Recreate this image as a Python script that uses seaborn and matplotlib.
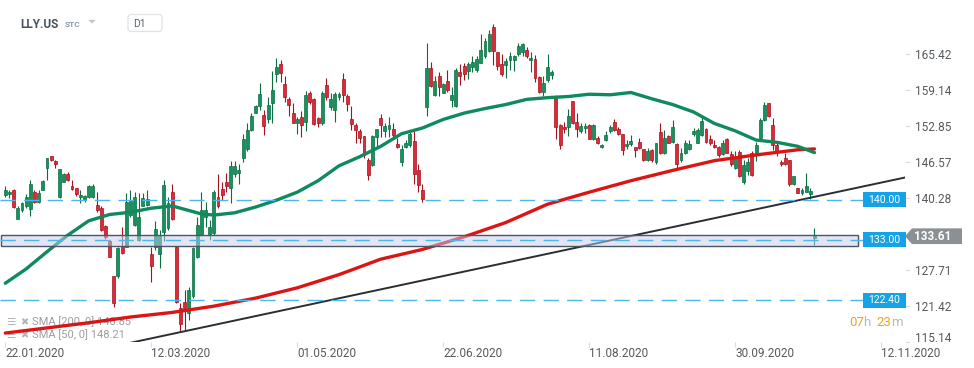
import numpy as np
import pandas as pd
import matplotlib.pyplot as plt
import matplotlib.patches as mpatches
import matplotlib.transforms as mtransforms
import seaborn as sns

# ----------------------------
# 1) Data (LLY.US, daily candles, bar index 0 = 22.01.2020)
# ----------------------------
opens = [140.8, 140.9, 141.6, 136.7, 138.1, 138.8, 138.3, 141.4, 139.6, 141.7,
         145.6, 147.6, 146.7, 140.4, 143.1, 144.5, 142.4, 142.0, 140.4, 139.9,
         140.5, 140.4, 139.1, 138.6, 135.4, 132.8, 126.6, 126.6, 131.9, 131.8,
         137.3, 135.6, 133.0, 138.9, 139.1, 130.5, 131.8, 130.5, 134.4, 135.0,
         141.4, 131.8, 121.0, 122.2, 120.2, 123.1, 130.0, 133.8, 137.0, 133.8,
         134.1, 140.4, 141.9, 143.0, 142.1, 144.5, 144.6, 147.2, 148.8, 152.2,
         155.2, 156.3, 154.8, 154.0, 156.8, 161.9, 163.7, 160.2, 157.6, 155.2,
         153.3, 154.4, 153.6, 158.6, 157.6, 154.2, 153.3, 160.0, 156.2, 155.6,
         158.0, 161.0, 158.1, 154.0, 153.1, 152.0, 151.1, 147.0, 146.0, 150.9,
         154.2, 151.9, 152.4, 152.3, 149.7, 146.5, 149.2, 149.5, 150.2, 145.1,
         141.7, 156.2, 162.9, 158.3, 161.6, 158.7, 160.7, 157.4, 156.3, 162.2,
         163.3, 162.5, 163.1, 162.7, 163.9, 165.0, 166.0, 170.1, 165.7, 163.7,
         163.5, 164.3, 164.3, 165.5, 165.7, 166.1, 164.3, 164.5, 161.4, 158.8,
         160.8, 161.8, 158.1, 153.1, 152.7, 152.6, 157.2, 153.6, 152.0, 152.5,
         153.1, 150.5, 150.7, 149.1, 150.4, 151.9, 153.5, 152.3, 151.5, 149.4,
         149.7, 149.1, 150.1, 148.8, 146.9, 148.7, 146.5, 151.8, 148.1, 151.1,
         150.1, 149.7, 146.9, 148.1, 148.8, 151.4, 149.9, 151.3, 152.3, 150.5,
         149.5, 149.1, 148.0, 150.5, 147.9, 145.5, 148.3, 143.0, 145.0, 148.1,
         148.1, 150.7, 153.9, 156.8, 153.1, 149.5, 146.6, 147.2, 146.9, 142.8,
         142.0, 141.2, 141.4, 140.9, 133.3]
highs = [142.3, 141.7, 141.8, 138.8, 139.6, 141.0, 143.5, 141.7, 141.7, 143.5,
         147.3, 147.7, 146.9, 145.4, 144.7, 144.9, 143.5, 142.0, 141.7, 140.8,
         142.6, 142.7, 141.4, 138.8, 135.5, 133.0, 126.7, 131.8, 135.2, 141.1,
         141.6, 141.4, 141.1, 141.1, 141.7, 131.8, 136.2, 134.7, 143.4, 140.5,
         142.8, 131.9, 122.0, 124.2, 124.8, 131.8, 137.0, 141.4, 139.6, 136.4,
         141.7, 144.5, 143.1, 144.6, 146.7, 146.7, 146.3, 151.5, 153.3, 155.1,
         156.5, 160.3, 155.6, 158.0, 162.5, 164.8, 164.4, 161.6, 158.0, 156.8,
         154.4, 155.5, 159.0, 159.0, 157.8, 154.4, 159.0, 161.2, 158.6, 158.8,
         158.8, 162.1, 158.4, 156.3, 153.3, 152.4, 151.1, 147.2, 151.3, 152.4,
         155.0, 153.3, 154.4, 153.3, 150.8, 149.5, 150.4, 151.9, 151.9, 146.2,
         142.7, 167.4, 164.1, 161.5, 162.2, 160.4, 162.7, 159.6, 162.9, 163.7,
         163.8, 164.1, 165.0, 165.0, 168.9, 168.3, 169.6, 170.7, 165.8, 165.5,
         164.7, 165.8, 165.2, 167.3, 167.4, 166.7, 165.7, 165.2, 161.5, 161.5,
         165.5, 162.7, 158.2, 153.2, 153.6, 155.8, 157.3, 155.2, 153.3, 153.3,
         153.2, 153.2, 151.1, 149.7, 151.9, 153.1, 154.1, 152.7, 151.5, 150.4,
         151.3, 149.1, 150.7, 148.9, 149.0, 148.8, 149.9, 153.3, 152.2, 151.3,
         153.9, 149.8, 149.0, 150.4, 150.4, 152.5, 152.5, 154.4, 152.5, 151.3,
         150.4, 149.3, 150.4, 150.7, 148.4, 148.4, 148.7, 146.9, 147.2, 148.4,
         150.0, 154.2, 157.1, 156.9, 154.2, 150.1, 146.9, 148.1, 147.0, 144.2,
         142.0, 142.1, 144.6, 142.1, 135.0]
lows = [140.5, 140.2, 138.5, 136.6, 137.9, 138.5, 137.1, 139.4, 139.4, 141.6,
        143.4, 146.8, 145.5, 140.3, 143.0, 143.3, 141.7, 140.6, 139.4, 139.6,
        140.2, 140.2, 137.9, 134.6, 133.2, 129.9, 121.3, 126.3, 130.5, 131.7,
        137.0, 135.4, 132.8, 138.8, 138.9, 125.7, 131.2, 128.0, 132.7, 134.7,
        136.4, 122.0, 117.1, 117.2, 119.0, 122.8, 129.8, 133.7, 135.3, 133.0,
        133.8, 138.6, 139.9, 141.4, 139.4, 144.0, 142.8, 146.6, 148.4, 151.9,
        155.1, 155.6, 151.3, 153.3, 153.3, 160.6, 160.6, 157.1, 154.6, 153.3,
        151.5, 151.0, 151.9, 156.7, 153.0, 152.7, 153.0, 157.4, 155.6, 153.6,
        157.4, 157.1, 155.5, 152.2, 149.8, 149.8, 147.2, 143.4, 145.8, 149.0,
        150.9, 151.0, 150.9, 151.0, 149.0, 145.8, 149.0, 149.2, 142.8, 141.4,
        139.6, 154.6, 159.7, 158.1, 158.1, 158.6, 158.8, 156.2, 156.2, 160.0,
        160.9, 161.0, 162.3, 162.2, 163.8, 164.8, 165.8, 163.5, 162.6, 161.5,
        161.2, 162.6, 162.5, 165.0, 165.0, 164.7, 162.3, 160.6, 158.7, 158.1,
        160.6, 161.0, 150.5, 148.8, 151.7, 151.1, 153.2, 151.0, 151.6, 151.6,
        150.5, 150.4, 149.7, 149.0, 150.2, 151.6, 152.0, 151.3, 147.8, 148.8,
        149.4, 147.4, 148.8, 146.8, 146.8, 146.6, 146.3, 148.0, 148.0, 149.8,
        149.8, 145.5, 146.6, 148.0, 148.7, 151.1, 149.8, 151.1, 149.9, 149.5,
        149.0, 147.5, 147.8, 148.1, 145.9, 145.4, 144.0, 142.8, 144.3, 144.2,
        146.7, 150.6, 153.7, 154.5, 148.7, 147.7, 145.9, 146.0, 142.3, 142.6,
        141.1, 140.8, 141.3, 140.1, 132.1]
closes = [141.7, 141.3, 138.7, 138.5, 139.4, 140.4, 142.7, 139.5, 141.1, 143.3,
          147.2, 147.0, 146.3, 145.3, 144.5, 143.5, 141.8, 140.9, 140.8, 140.6,
          142.3, 142.4, 138.2, 134.7, 133.4, 130.0, 122.0, 131.5, 130.6, 139.6,
          139.9, 140.5, 137.0, 140.2, 140.1, 128.4, 134.8, 133.8, 142.6, 139.4,
          136.7, 122.2, 118.3, 121.0, 124.2, 131.5, 135.6, 138.2, 138.2, 135.3,
          141.4, 138.8, 140.8, 142.4, 145.9, 145.9, 145.1, 150.6, 152.2, 154.6,
          156.3, 158.4, 152.9, 156.5, 159.1, 163.2, 162.1, 158.0, 156.6, 153.4,
          154.1, 153.1, 158.2, 157.0, 153.2, 153.3, 158.6, 157.9, 157.6, 158.4,
          158.4, 158.3, 156.7, 153.2, 152.2, 150.7, 147.8, 144.3, 151.1, 152.3,
          153.1, 152.9, 153.1, 151.3, 149.2, 148.8, 149.8, 151.5, 144.4, 142.6,
          140.1, 162.9, 159.9, 160.7, 159.6, 160.2, 159.1, 158.3, 162.7, 161.6,
          161.9, 163.7, 164.1, 164.5, 166.1, 167.7, 168.9, 166.0, 163.3, 161.9,
          164.2, 165.1, 165.0, 166.8, 167.2, 165.0, 164.7, 161.2, 158.8, 160.4,
          163.1, 162.3, 152.6, 149.5, 152.3, 154.6, 153.3, 152.3, 152.9, 152.9,
          150.6, 153.1, 149.9, 149.5, 151.3, 152.7, 152.2, 151.5, 148.6, 149.7,
          150.2, 148.7, 149.0, 146.9, 148.4, 147.0, 149.8, 148.1, 150.8, 149.9,
          152.6, 146.3, 148.2, 149.8, 149.7, 152.0, 152.2, 153.7, 150.1, 149.8,
          149.1, 147.8, 149.8, 148.2, 146.2, 147.2, 144.1, 146.0, 146.6, 144.3,
          149.5, 153.9, 156.6, 154.6, 149.5, 148.4, 146.2, 146.3, 142.7, 144.1,
          141.2, 141.7, 142.4, 141.5, 133.61]

# moving averages as drawn on the chart (sampled along the curve)
sma50_idx = [0, 5, 10, 15, 20, 25, 30, 35, 40, 43, 47, 50, 55, 60, 65, 70, 75, 80, 85, 90,
             95, 100, 105, 110, 115, 120, 125, 130, 135, 140, 145, 150, 155, 160, 165,
             170, 175, 180, 185, 190, 194]
sma50_val = [125.4, 127.9, 130.9, 133.8, 136.3, 137.4, 137.8, 138.5, 138.9, 138.3, 137.5, 137.3,
             137.7, 138.7, 139.9, 141.3, 143.3, 145.9, 147.5, 149.3, 151.5, 152.5, 154.0,
             155.1, 155.9, 156.6, 157.5, 157.8, 158.0, 158.4, 158.3, 158.7, 157.6, 156.6,
             155.3, 153.3, 152.0, 150.4, 150.0, 149.3, 148.21]
sma200_idx = [0, 10, 20, 30, 40, 50, 60, 70, 80, 90, 100, 110, 120, 130, 140, 150, 160,
              170, 180, 190, 194]
sma200_val = [116.7, 117.6, 118.5, 119.5, 120.3, 121.4, 122.8, 124.6, 126.9, 129.6, 131.3,
              133.5, 136.0, 139.2, 141.3, 143.3, 145.1, 146.8, 147.8, 148.7, 148.85]

# support trend line (two anchor points) and horizontal levels
trend_idx = [30, 216.3]
trend_val = [115.0, 143.95]
levels = [140.00, 133.00, 122.40]
zone_low, zone_high = 131.95, 133.85
last_price = 133.61

ytick_vals = [115.14, 121.42, 127.71, 140.28, 146.57, 152.85, 159.14, 165.42]
xtick_idx = [0, 35, 70, 105, 140, 175, 210]
xtick_labels = ['22.01.2020', '12.03.2020', '01.05.2020', '22.06.2020',
                '11.08.2020', '30.09.2020', '12.11.2020']

# ----------------------------
# 2) Style
# ----------------------------
sns.set_theme(style="white")
plt.rcParams['font.family'] = ['Roboto', 'DejaVu Sans']
plt.rcParams['lines.scale_dashes'] = False

W, H = 974, 368
fig = plt.figure(figsize=(W / 100, H / 100), dpi=100)
ax = fig.add_axes([0, 26 / H, 905 / W, 342 / H])
x0, x1 = -1.27, 215.7
ax.set_xlim(x0, x1)
ax.set_ylim(115.14, 174.85)
for s in ax.spines.values():
    s.set_visible(False)

# ----------------------------
# 3) Candles
# ----------------------------
df = pd.DataFrame({'o': opens, 'h': highs, 'l': lows, 'c': closes})
df['i'] = np.arange(len(df))
up = df['c'] >= df['o']
for mask, fc, ec in [(up, '#17925e', '#0b6d41'), (~up, '#dc2a36', '#a5121f')]:
    d = df[mask]
    ax.vlines(d['i'], d['l'], d['h'], color=ec, lw=0.8, zorder=2)
    ax.bar(d['i'], (d['c'] - d['o']).abs().clip(lower=0.15),
           bottom=d[['o', 'c']].min(axis=1), width=0.7,
           color=fc, edgecolor=ec, linewidth=0.5, zorder=3)

# ----------------------------
# 4) Indicators + trend line
# ----------------------------
sns.lineplot(x=sma200_idx, y=sma200_val, ax=ax, color='#dd1414', lw=2.4, zorder=4,
             solid_joinstyle='round', solid_capstyle='round')
sns.lineplot(x=sma50_idx, y=sma50_val, ax=ax, color='#0e8a5c', lw=2.4, zorder=4,
             solid_joinstyle='round', solid_capstyle='round')
sns.lineplot(x=trend_idx, y=trend_val, ax=ax, color='#2a2e33', lw=1.4, zorder=4)
ax.set_xlabel('')
ax.set_ylabel('')

# levels + zone
lvl_end = 205.7
for v in levels:
    ax.plot([x0, lvl_end], [v, v], color='#4cb6ef', lw=1.0, dashes=(11, 6), zorder=6)
ax.add_patch(mpatches.Rectangle((x0 + 0.3, zone_low), 204.2 - x0, zone_high - zone_low,
                                facecolor=(0.78, 0.80, 0.93, 0.5), edgecolor='#4b5663',
                                lw=1.0, zorder=5))

# right side boxes (x in figure fraction, y in price)
trans = mtransforms.blended_transform_factory(fig.transFigure, ax.transData)
for v in levels:
    ax.add_patch(mpatches.Rectangle((863 / W, v - 1.28), 43 / W, 2.56, transform=trans,
                                    facecolor='#14a3e8', edgecolor='none',
                                    clip_on=False, zorder=7))
    ax.text(884.5 / W, v, f'{v:.2f}', transform=trans, ha='center', va='center',
            color='white', fontsize=7.5, clip_on=False, zorder=8)

tag = [(905 / W, last_price), (912 / W, last_price + 1.37), (962 / W, last_price + 1.37),
       (962 / W, last_price - 1.37), (912 / W, last_price - 1.37)]
ax.add_patch(mpatches.Polygon(tag, closed=True, transform=trans, facecolor='#8a9094',
                              edgecolor='none', clip_on=False, zorder=7))
ax.text(933 / W, last_price, f'{last_price:.2f}', transform=trans, ha='center',
        va='center', color='white', fontsize=8.5, weight='bold', clip_on=False, zorder=8)

# ----------------------------
# 5) Axes ticks
# ----------------------------
ax.yaxis.tick_right()
ax.set_yticks(ytick_vals)
ax.set_yticklabels([f'{v:.2f}' for v in ytick_vals])
ax.tick_params(axis='y', length=3.6, width=0.8, color='#dcdcdc', pad=3.6,
               labelsize=8.5, labelcolor='#555a5e', right=True, left=False)
ax.set_xticks(xtick_idx)
ax.set_xticklabels(xtick_labels, ha='left')
ax.tick_params(axis='x', length=3.6, width=0.8, color='#dcdcdc', pad=0,
               labelsize=8.5, labelcolor='#555a5e', bottom=True)
# lowest price label sits a bit higher on the original
lab = ax.get_yticklabels()[0]
lab.set_transform(lab.get_transform() +
                  mtransforms.ScaledTranslation(0, 5 / 100, fig.dpi_scale_trans))

# ----------------------------
# 6) Header, legend, timer
# ----------------------------
def fx(x):
    return x / W


def fy(y):
    return 1 - y / H


fig.text(fx(20), fy(27.5), 'LLY.US', fontsize=8.5, weight='bold', color='#47525c', va='baseline')
fig.text(fx(65), fy(26.7), 'STC', fontsize=6, weight='bold', color='#8b9fb3', va='baseline')
for cx, cy in [(92, 21.5), (154.5, 23.5)]:
    fig.patches.append(mpatches.Polygon([(fx(cx - 4), fy(cy - 1.7)), (fx(cx + 4), fy(cy - 1.7)),
                                         (fx(cx), fy(cy + 2))], closed=True,
                                        transform=fig.transFigure, facecolor='#c3c8cc',
                                        edgecolor='none'))
fig.patches.append(mpatches.FancyBboxPatch((128, H - 31.5), 34, 17,
                                           boxstyle='round,pad=0,rounding_size=3',
                                           transform=mtransforms.IdentityTransform(),
                                           facecolor='white', edgecolor='#e0e4e8', lw=0.9))
fig.text(fx(133), fy(27.3), 'D1', fontsize=7.5, color='#5a6169', va='baseline')

leg_rows = [('SMA [200, 0] 148.85', 322), ('SMA [50, 0] 148.21', 335)]
for txt, yy in leg_rows:
    ax.text(fx(6), fy(yy), '\u2630', transform=fig.transFigure, fontsize=7.5,
            color='#b0b5ba', va='center', family=['DejaVu Sans'], zorder=3.5)
    ax.text(fx(20.5), fy(yy), '\u2716', transform=fig.transFigure, fontsize=7,
            color='#b0b5ba', va='center', family=['DejaVu Sans'], zorder=3.5)
    ax.text(fx(32), fy(yy), txt, transform=fig.transFigure, fontsize=8,
            color='#9a9ea3', va='center', zorder=3.5)

for txt, xx, col in [('07', 849, '#f5a022'), ('h', 863, '#b5b9bd'),
                     ('23', 876, '#f5a022'), ('m', 891, '#b5b9bd')]:
    fig.text(fx(xx), fy(323), txt, fontsize=9.5, color=col, va='center')

fig.savefig('out.png', dpi=100)
